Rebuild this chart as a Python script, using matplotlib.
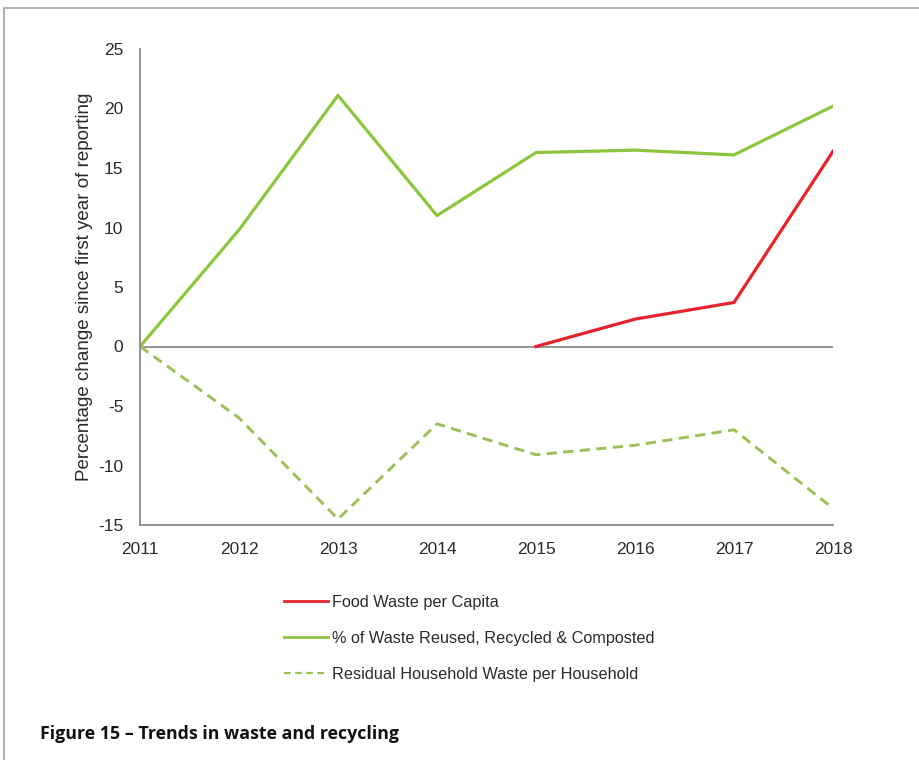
import matplotlib
matplotlib.use("Agg")
import matplotlib.pyplot as plt
from matplotlib.lines import Line2D
from matplotlib.patches import Rectangle

years = [2011, 2012, 2013, 2014, 2015, 2016, 2017, 2018]
food_years = [2015, 2016, 2017, 2018]
food_waste = [0, 2.3, 3.7, 16.4]
recycled = [0, 9.8, 21.1, 11.0, 16.3, 16.5, 16.1, 20.2]
residual = [0, -6.0, -14.5, -6.5, -9.1, -8.3, -7.0, -13.6]
yticks = [-15, -10, -5, 0, 5, 10, 15, 20, 25]
labels = ["Food Waste per Capita", "% of Waste Reused, Recycled & Composted",
          "Residual Household Waste per Household"]

RED = "#e5232d"
GREEN = "#8cc63e"
DGREEN = "#9dbf5a"
AXC = "#8c8c8c"
TXT = "#2a2a2a"

plt.rcParams['font.family'] = ['Liberation Sans', 'DejaVu Sans']
plt.rcParams['axes.unicode_minus'] = False
fig = plt.figure(figsize=(9.19, 7.6), dpi=100)
fig.patches.append(Rectangle((4/919, -0.1), 1.2, 1 - 8/760 + 0.1, transform=fig.transFigure,
                             fill=False, edgecolor="#a0a0a0", linewidth=1.2))

ax = fig.add_axes([140/919, 1 - 525/760, 693/919, 476/760])
ax.plot(food_years, food_waste, color=RED, lw=2.3)
ax.plot(years, recycled, color=GREEN, lw=2.3)
ax.plot(years, residual, color=DGREEN, lw=2.1, ls=(0, (3.5, 2.2)))
ax.axhline(0, color=AXC, lw=1.3, zorder=0)

ax.set_xlim(2011, 2018)
ax.set_ylim(-15, 25)
ax.set_yticks(yticks)
ax.set_xticks(years)
ax.tick_params(length=0, labelsize=12.5, colors=TXT)
ax.tick_params(axis='y', pad=12)
ax.tick_params(axis='x', pad=12.5)
for s in ['top', 'right']:
    ax.spines[s].set_visible(False)
for s in ['left', 'bottom']:
    ax.spines[s].set_color(AXC)
    ax.spines[s].set_linewidth(1.3)
ax.set_ylabel("Percentage change since first year of reporting", fontsize=13.5, color=TXT, labelpad=4)
ax.patch.set_alpha(0)

handles = [Line2D([], [], color=RED, lw=2),
           Line2D([], [], color=GREEN, lw=2),
           Line2D([], [], color=DGREEN, lw=1.6, ls=(0, (3, 2)))]
fig.legend(handles, labels, loc='upper left', bbox_to_anchor=(269/919, 1 - 580/760),
           frameon=False, fontsize=11.7, handlelength=2.75, labelspacing=1.3,
           handletextpad=0.2, labelcolor=TXT)

fig.text(40/919, 1 - 734/760, "Figure 15 \u2013 Trends in waste and recycling",
         fontsize=12.8, fontweight='bold', family=['Open Sans', 'DejaVu Sans'],
         va='center', ha='left', color="#111111")

fig.savefig("out.png", dpi=100)
